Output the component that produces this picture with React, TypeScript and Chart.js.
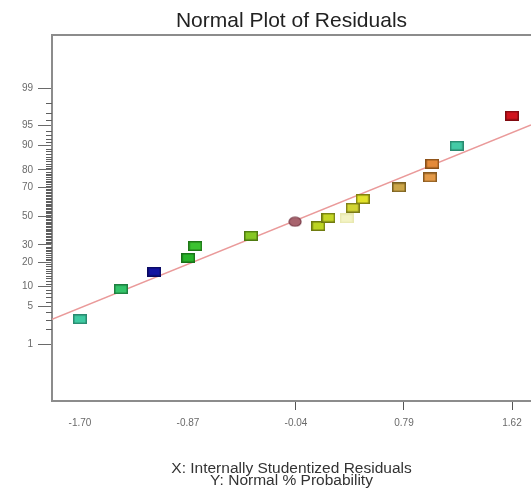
import React, { useEffect, useRef } from 'react';
import { Chart, registerables } from 'chart.js';
Chart.register(...registerables);

// Internally studentized residuals (x) and normal % probability (y)
const residuals = [-1.70, -1.385, -1.129, -0.868, -0.814, -0.386, -0.047, 0.132, 0.209, 0.350, 0.396, 0.473, 0.752, 0.990, 1.008, 1.195, 1.62];
const probabilities = [3.05, 9.22, 15.6, 22.4, 29.3, 36.0, 45.9, 42.8, 48.8, 48.3, 56.0, 62.1, 69.9, 75.9, 82.9, 89.9, 96.6];
const pointFills = ['#3fcaa2', '#34c46a', '#1414a0', '#28b42a', '#3cc232', '#86c624', '#a8646e', '#bcd424', '#c4d626', '#f3f3c4', '#d2d432', '#e2e22a', '#cca648', '#e49a48', '#e48a3a', '#44caa6', '#d0141e'];
const pointBorders = ['#2a8a70', '#1e8040', '#0a0a60', '#187018', '#207818', '#4e7a10', '#7a3c48', '#6e7a10', '#707a10', '#e8e8b0', '#7a7a18', '#808010', '#7a6020', '#8a5a20', '#8a5018', '#2a8a70', '#800a10'];
const pointShapes = ['rect', 'rect', 'rect', 'rect', 'rect', 'rect', 'circle', 'rect', 'rect', 'rect', 'rect', 'rect', 'rect', 'rect', 'rect', 'rect', 'rect'];

// Fitted normal line endpoints
const fitX = [-1.915, 1.766];
const fitP = [3.05, 95.1];

const xTickValues = [-1.70, -0.87, -0.04, 0.79, 1.62];
const xTickLabels = ['-1.70', '-0.87', '-0.04', '0.79', '1.62'];
const xTickMarked = [false, false, true, true, true];
const yMajorPercents = [1, 5, 10, 20, 30, 50, 70, 80, 90, 95, 99];

function probit(p: number): number {
  const a = [-3.969683028665376e+01, 2.209460984245205e+02, -2.759285104469687e+02, 1.383577518672690e+02, -3.066479806614716e+01, 2.506628277459239e+00];
  const b = [-5.447609879822406e+01, 1.615858368580409e+02, -1.556989798598866e+02, 6.680131188771972e+01, -1.328068155288572e+01];
  const c = [-7.784894002430293e-03, -3.223964580411365e-01, -2.400758277161838e+00, -2.549732539343734e+00, 4.374664141464968e+00, 2.938163982698783e+00];
  const d = [7.784695709041462e-03, 3.224671290700398e-01, 2.445134137142996e+00, 3.754408661907416e+00];
  const pl = 0.02425;
  if (p < pl) {
    const q = Math.sqrt(-2 * Math.log(p));
    return (((((c[0] * q + c[1]) * q + c[2]) * q + c[3]) * q + c[4]) * q + c[5]) / ((((d[0] * q + d[1]) * q + d[2]) * q + d[3]) * q + 1);
  }
  if (p > 1 - pl) {
    const q = Math.sqrt(-2 * Math.log(1 - p));
    return -(((((c[0] * q + c[1]) * q + c[2]) * q + c[3]) * q + c[4]) * q + c[5]) / ((((d[0] * q + d[1]) * q + d[2]) * q + d[3]) * q + 1);
  }
  const q = p - 0.5;
  const r = q * q;
  return (((((a[0] * r + a[1]) * r + a[2]) * r + a[3]) * r + a[4]) * r + a[5]) * q / (((((b[0] * r + b[1]) * r + b[2]) * r + b[3]) * r + b[4]) * r + 1);
}

function makeMarker(shape: string, fill: string, border: string): HTMLCanvasElement {
  const cv = document.createElement('canvas');
  const w = 14;
  const h = shape === 'circle' ? 11 : 10;
  cv.width = w;
  cv.height = h;
  const ctx = cv.getContext('2d')!;
  if (shape === 'circle') {
    ctx.beginPath();
    ctx.ellipse(w / 2, h / 2, w / 2 - 1, h / 2 - 1, 0, 0, Math.PI * 2);
    ctx.fillStyle = fill;
    ctx.fill();
    ctx.lineWidth = 1.2;
    ctx.strokeStyle = border;
    ctx.stroke();
  } else {
    ctx.fillStyle = border;
    ctx.fillRect(0, 0, w, h);
    ctx.fillStyle = fill;
    ctx.fillRect(1.5, 1.5, w - 3, h - 3);
  }
  return cv;
}

const framePlugin = {
  id: 'frame',
  afterDraw(chart: any) {
    const { ctx, chartArea } = chart;
    const y = chart.scales.y;
    ctx.save();
    ctx.strokeStyle = '#8c8c8c';
    ctx.lineWidth = 2;
    ctx.beginPath();
    ctx.moveTo(chartArea.left - 1, chartArea.top);
    ctx.lineTo(chartArea.right, chartArea.top);
    ctx.stroke();
    ctx.strokeStyle = '#5e5e5e';
    ctx.lineWidth = 1;
    for (let p = 1; p <= 99; p++) {
      if (yMajorPercents.includes(p)) continue;
      const py = Math.round(y.getPixelForValue(probit(p / 100))) + 0.5;
      ctx.beginPath();
      ctx.moveTo(chartArea.left - 6, py);
      ctx.lineTo(chartArea.left, py);
      ctx.stroke();
    }
    ctx.restore();
  },
};

export default function App() {
  const ref = useRef<HTMLCanvasElement>(null);
  useEffect(() => {
    if (!ref.current) return;
    const markers = residuals.map((_, i) => makeMarker(pointShapes[i], pointFills[i], pointBorders[i]));
    const chart = new Chart(ref.current, {
      type: 'scatter',
      data: {
        datasets: [
          {
            label: 'Residuals',
            data: residuals.map((x, i) => ({ x, y: probit(probabilities[i] / 100) })),
            pointStyle: markers as any,
            pointRadius: 7,
            order: 0,
          },
          {
            type: 'line',
            label: 'Normal line',
            data: fitX.map((x, i) => ({ x, y: probit(fitP[i] / 100) })),
            borderColor: '#ea9a9a',
            borderWidth: 1.5,
            pointRadius: 0,
            order: 1,
          } as any,
        ],
      },
      options: {
        responsive: false,
        animation: false,
        layout: { padding: 0, autoPadding: false },
        plugins: {
          legend: { display: false },
          tooltip: { enabled: false },
          title: {
            display: true,
            text: 'Normal Plot of Residuals',
            fullSize: false,
            color: '#222222',
            font: { family: 'Liberation Sans, Arial, sans-serif', size: 21, weight: 'normal' },
            padding: { top: 9, bottom: 0.8 },
          },
        },
        scales: {
          x: {
            type: 'linear',
            min: -1.915,
            max: 1.766,
            afterFit: (s: any) => { s.height = 90; s.paddingRight = 0; s.paddingLeft = 0; },
            afterBuildTicks: (s: any) => { s.ticks = xTickValues.map((v) => ({ value: v })); },
            border: { color: '#8c8c8c', width: 2 },
            grid: {
              drawOnChartArea: false,
              tickLength: 9,
              tickColor: (ctx: any) => (xTickMarked[ctx.index] ? '#555555' : 'rgba(0,0,0,0)'),
            },
            ticks: {
              autoSkip: false,
              maxRotation: 0,
              padding: 7,
              color: '#6a6a6a',
              font: { family: 'Liberation Sans, Arial, sans-serif', size: 10 },
              callback: (_v: any, i: number) => xTickLabels[i],
            },
            title: {
              display: true,
              text: ['X: Internally Studentized Residuals', 'Y: Normal % Probability'],
              color: '#333333',
              font: { family: 'Liberation Sans, Arial, sans-serif', size: 15.5, lineHeight: 0.8 },
              padding: { top: 4, bottom: 4 },
            },
          },
          y: {
            type: 'linear',
            min: -3.36,
            max: 3.29,
            afterFit: (s: any) => { s.width = 52; },
            afterBuildTicks: (s: any) => { s.ticks = yMajorPercents.map((p) => ({ value: probit(p / 100) })); },
            border: { color: '#8c8c8c', width: 2 },
            grid: {
              drawOnChartArea: false,
              tickLength: 14,
              tickColor: '#6a6a6a',
            },
            ticks: {
              autoSkip: false,
              padding: 5,
              color: '#6a6a6a',
              font: { family: 'Liberation Sans, Arial, sans-serif', size: 10 },
              callback: (_v: any, i: number) => String(yMajorPercents[i]),
            },
          },
        },
      },
      plugins: [framePlugin],
    });
    return () => chart.destroy();
  }, []);
  return (
    <div style={{ position: 'fixed', left: 0, top: 0, width: 531, height: 491, background: '#ffffff' }}>
      <canvas ref={ref} width={531} height={491} />
    </div>
  );
}
